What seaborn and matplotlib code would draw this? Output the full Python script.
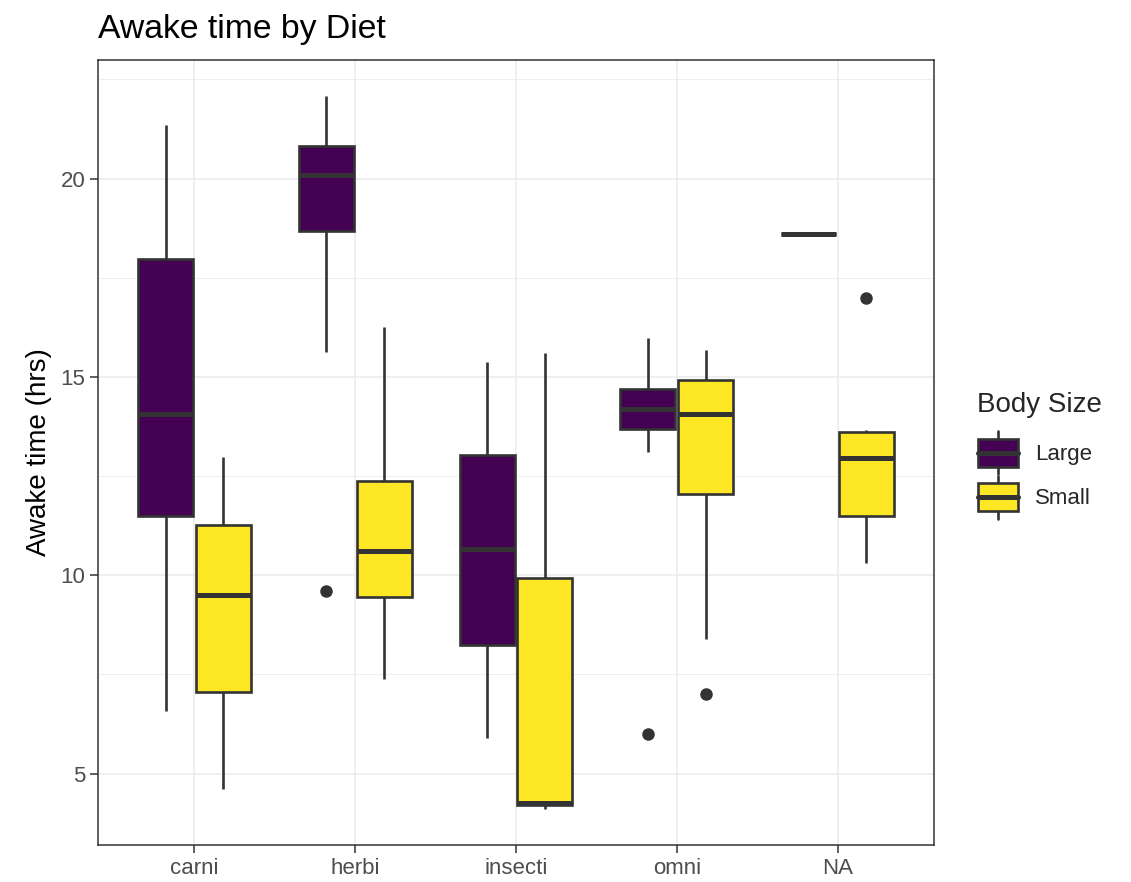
import matplotlib
matplotlib.use("Agg")
import matplotlib.pyplot as plt
from matplotlib.ticker import MultipleLocator
from matplotlib.legend_handler import HandlerBase
from matplotlib.patches import Patch, Rectangle
from matplotlib.lines import Line2D
import seaborn as sns
import pandas as pd

# diet categories and body sizes
diets = ["carni", "herbi", "insecti", "omni", "NA"]
sizes = ["Large", "Small"]
colors = ["#440154", "#FDE725"]

# awake hours per group
carni_large = [6.57, 11.49, 14.06, 17.98, 21.36]
carni_small = [4.6, 7.05, 9.5, 11.26, 12.97]
herbi_large = [9.6, 15.62, 18.69, 19.4, 20.08, 20.5, 20.83, 21.5, 22.09]
herbi_small = [7.38, 9.45, 10.6, 12.37, 16.27]
insecti_large = [5.9, 8.24, 10.65, 13.02, 15.37]
insecti_small = [4.1, 4.2, 4.27, 9.92, 15.6]
omni_large = [6.0, 13.12, 13.68, 13.9, 14.18, 14.4, 14.69, 15.3, 15.97]
omni_small = [7.0, 8.39, 12.04, 13.5, 14.06, 14.5, 14.93, 15.3, 15.69]
na_large = [18.6]
na_small = [10.3, 11.0, 11.49, 12.5, 12.95, 13.2, 13.6, 13.65, 17.0]

groups = {
    ("carni", "Large"): carni_large, ("carni", "Small"): carni_small,
    ("herbi", "Large"): herbi_large, ("herbi", "Small"): herbi_small,
    ("insecti", "Large"): insecti_large, ("insecti", "Small"): insecti_small,
    ("omni", "Large"): omni_large, ("omni", "Small"): omni_small,
    ("NA", "Large"): na_large, ("NA", "Small"): na_small,
}
rows = [(d, s, v) for (d, s), vals in groups.items() for v in vals]
df = pd.DataFrame(rows, columns=["vore", "size", "awake"])

EDGE = "#333333"
LW = 1.9
LW_MED = 3.6

sns.set_theme(style="white")
plt.rcParams["font.family"] = ["Liberation Sans", "DejaVu Sans"]

fig = plt.figure(figsize=(11.31, 8.82), dpi=100)
ax = fig.add_axes([98 / 1131, 37 / 882, (934 - 98) / 1131, (845 - 60) / 882])

sns.boxplot(data=df, x="vore", y="awake", hue="size", order=diets, hue_order=sizes,
            palette=colors, saturation=1, width=0.72, gap=0.05, linecolor=EDGE,
            linewidth=LW, legend=False, ax=ax,
            medianprops={"linewidth": LW_MED, "color": EDGE},
            whiskerprops={"linewidth": LW, "color": EDGE},
            capprops={"visible": False},
            flierprops={"marker": "o", "markersize": 8, "markerfacecolor": EDGE,
                        "markeredgecolor": EDGE})

ax.set_xlim(-0.6, 4.6)
ax.set_ylim(3.2, 22.99)
ax.yaxis.set_major_locator(MultipleLocator(5))
ax.yaxis.set_minor_locator(MultipleLocator(2.5))
ax.set_axisbelow(True)
ax.grid(True, which="major", color="#EBEBEB", linewidth=1.1)
ax.grid(True, which="minor", axis="y", color="#EBEBEB", linewidth=0.6)
for sp in ax.spines.values():
    sp.set_color(EDGE)
    sp.set_linewidth(1.1)
ax.tick_params(which="major", length=6, width=1.1, color=EDGE, labelcolor="#4D4D4D",
               labelsize=16, pad=3, bottom=True, left=True)
ax.tick_params(which="minor", length=0)

ax.set_xlabel("")
ax.set_ylabel("Awake time (hrs)", fontsize=20, labelpad=6, color="black")
ax.set_title("Awake time by Diet", loc="left", fontsize=24.3, pad=16, color="black")


class BoxKey(HandlerBase):
    def create_artists(self, legend, orig, xd, yd, w, h, fs, trans):
        x0, y0 = -xd, -yd
        cx = x0 + w / 2
        wl = Line2D([cx, cx], [y0, y0 + h], color=EDGE, lw=LW, transform=trans)
        box = Rectangle((x0 + 1, y0 + h * 0.17), w - 2, h * 0.66,
                        facecolor=orig.get_facecolor(), edgecolor=EDGE, lw=LW,
                        transform=trans)
        med = Line2D([x0 + 1, x0 + w - 1], [y0 + h / 2] * 2, color=EDGE, lw=LW_MED,
                     transform=trans)
        return [wl, box, med]


handles = [Patch(facecolor=c, label=s) for c, s in zip(colors, sizes)]
leg = fig.legend(handles=handles, title="Body Size", loc="center left",
                 bbox_to_anchor=(957 / 1131, 1 - 455 / 882), frameon=False,
                 fontsize=16, title_fontsize=20, handlelength=1.9, handleheight=2.6,
                 labelspacing=0.05, handletextpad=0.7,
                 handler_map={Patch: BoxKey()})
leg._legend_box.align = "left"
leg._legend_box.sep = 10

fig.savefig("out.png", dpi=100)
